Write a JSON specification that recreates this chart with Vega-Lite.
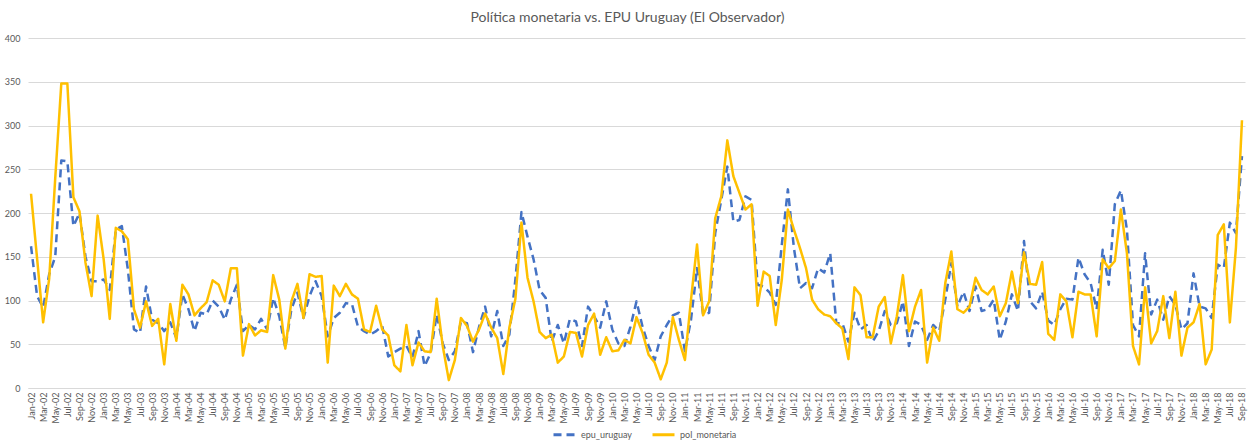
{
  "$schema": "https://vega.github.io/schema/vega-lite/v6.json",
  "width": 1217,
  "height": 350,
  "autosize": {"type": "none"},
  "padding": {"left": 28, "top": 38, "right": 8, "bottom": 55},
  "background": "white",
  "title": {"text": "Política monetaria vs. EPU Uruguay (El Observador)", "fontSize": 14, "font": "Lato", "fontWeight": "normal", "color": "#595959", "offset": 9, "anchor": "middle", "dx": -9},
  "data": {"values": [
    {"m":"Jan-02","epu_uruguay":162,"pol_monetaria":222},{"m":"Feb-02","epu_uruguay":105,"pol_monetaria":148},{"m":"Mar-02","epu_uruguay":92,"pol_monetaria":75},{"m":"Apr-02","epu_uruguay":130,"pol_monetaria":125},{"m":"May-02","epu_uruguay":150,"pol_monetaria":240},{"m":"Jun-02","epu_uruguay":260,"pol_monetaria":348},{"m":"Jul-02","epu_uruguay":259,"pol_monetaria":348},{"m":"Aug-02","epu_uruguay":185,"pol_monetaria":218},{"m":"Sep-02","epu_uruguay":200,"pol_monetaria":202},{"m":"Oct-02","epu_uruguay":150,"pol_monetaria":143},{"m":"Nov-02","epu_uruguay":122,"pol_monetaria":105},{"m":"Dec-02","epu_uruguay":122,"pol_monetaria":197},
    {"m":"Jan-03","epu_uruguay":124,"pol_monetaria":147},{"m":"Feb-03","epu_uruguay":112,"pol_monetaria":79},{"m":"Mar-03","epu_uruguay":181,"pol_monetaria":183},{"m":"Apr-03","epu_uruguay":185,"pol_monetaria":179},{"m":"May-03","epu_uruguay":135,"pol_monetaria":170},{"m":"Jun-03","epu_uruguay":67,"pol_monetaria":90},{"m":"Jul-03","epu_uruguay":63,"pol_monetaria":69},{"m":"Aug-03","epu_uruguay":116,"pol_monetaria":99},{"m":"Sep-03","epu_uruguay":78,"pol_monetaria":71},{"m":"Oct-03","epu_uruguay":74,"pol_monetaria":79},{"m":"Nov-03","epu_uruguay":65,"pol_monetaria":27},{"m":"Dec-03","epu_uruguay":75,"pol_monetaria":96},
    {"m":"Jan-04","epu_uruguay":57,"pol_monetaria":54},{"m":"Feb-04","epu_uruguay":107,"pol_monetaria":118},{"m":"Mar-04","epu_uruguay":90,"pol_monetaria":107},{"m":"Apr-04","epu_uruguay":65,"pol_monetaria":83},{"m":"May-04","epu_uruguay":86,"pol_monetaria":91},{"m":"Jun-04","epu_uruguay":84,"pol_monetaria":98},{"m":"Jul-04","epu_uruguay":100,"pol_monetaria":123},{"m":"Aug-04","epu_uruguay":93,"pol_monetaria":118},{"m":"Sep-04","epu_uruguay":78,"pol_monetaria":99},{"m":"Oct-04","epu_uruguay":101,"pol_monetaria":137},{"m":"Nov-04","epu_uruguay":118,"pol_monetaria":137},{"m":"Dec-04","epu_uruguay":65,"pol_monetaria":37},
    {"m":"Jan-05","epu_uruguay":72,"pol_monetaria":73},{"m":"Feb-05","epu_uruguay":67,"pol_monetaria":60},{"m":"Mar-05","epu_uruguay":79,"pol_monetaria":66},{"m":"Apr-05","epu_uruguay":67,"pol_monetaria":64},{"m":"May-05","epu_uruguay":103,"pol_monetaria":129},{"m":"Jun-05","epu_uruguay":82,"pol_monetaria":101},{"m":"Jul-05","epu_uruguay":46,"pol_monetaria":45},{"m":"Aug-05","epu_uruguay":90,"pol_monetaria":99},{"m":"Sep-05","epu_uruguay":109,"pol_monetaria":119},{"m":"Oct-05","epu_uruguay":80,"pol_monetaria":80},{"m":"Nov-05","epu_uruguay":105,"pol_monetaria":130},{"m":"Dec-05","epu_uruguay":122,"pol_monetaria":127},
    {"m":"Jan-06","epu_uruguay":105,"pol_monetaria":128},{"m":"Feb-06","epu_uruguay":59,"pol_monetaria":29},{"m":"Mar-06","epu_uruguay":80,"pol_monetaria":117},{"m":"Apr-06","epu_uruguay":86,"pol_monetaria":105},{"m":"May-06","epu_uruguay":97,"pol_monetaria":119},{"m":"Jun-06","epu_uruguay":96,"pol_monetaria":107},{"m":"Jul-06","epu_uruguay":70,"pol_monetaria":102},{"m":"Aug-06","epu_uruguay":65,"pol_monetaria":67},{"m":"Sep-06","epu_uruguay":61,"pol_monetaria":64},{"m":"Oct-06","epu_uruguay":65,"pol_monetaria":94},{"m":"Nov-06","epu_uruguay":71,"pol_monetaria":67},{"m":"Dec-06","epu_uruguay":36,"pol_monetaria":60},
    {"m":"Jan-07","epu_uruguay":41,"pol_monetaria":26},{"m":"Feb-07","epu_uruguay":45,"pol_monetaria":19},{"m":"Mar-07","epu_uruguay":48,"pol_monetaria":72},{"m":"Apr-07","epu_uruguay":35,"pol_monetaria":26},{"m":"May-07","epu_uruguay":65,"pol_monetaria":52},{"m":"Jun-07","epu_uruguay":25,"pol_monetaria":42},{"m":"Jul-07","epu_uruguay":40,"pol_monetaria":41},{"m":"Aug-07","epu_uruguay":84,"pol_monetaria":102},{"m":"Sep-07","epu_uruguay":51,"pol_monetaria":48},{"m":"Oct-07","epu_uruguay":32,"pol_monetaria":9},{"m":"Nov-07","epu_uruguay":42,"pol_monetaria":32},{"m":"Dec-07","epu_uruguay":76,"pol_monetaria":80},
    {"m":"Jan-08","epu_uruguay":74,"pol_monetaria":71},{"m":"Feb-08","epu_uruguay":41,"pol_monetaria":53},{"m":"Mar-08","epu_uruguay":70,"pol_monetaria":67},{"m":"Apr-08","epu_uruguay":93,"pol_monetaria":85},{"m":"May-08","epu_uruguay":59,"pol_monetaria":69},{"m":"Jun-08","epu_uruguay":88,"pol_monetaria":57},{"m":"Jul-08","epu_uruguay":48,"pol_monetaria":16},{"m":"Aug-08","epu_uruguay":61,"pol_monetaria":69},{"m":"Sep-08","epu_uruguay":124,"pol_monetaria":102},{"m":"Oct-08","epu_uruguay":201,"pol_monetaria":189},{"m":"Nov-08","epu_uruguay":173,"pol_monetaria":126},{"m":"Dec-08","epu_uruguay":147,"pol_monetaria":99},
    {"m":"Jan-09","epu_uruguay":112,"pol_monetaria":64},{"m":"Feb-09","epu_uruguay":103,"pol_monetaria":57},{"m":"Mar-09","epu_uruguay":53,"pol_monetaria":61},{"m":"Apr-09","epu_uruguay":72,"pol_monetaria":29},{"m":"May-09","epu_uruguay":51,"pol_monetaria":36},{"m":"Jun-09","epu_uruguay":79,"pol_monetaria":64},{"m":"Jul-09","epu_uruguay":76,"pol_monetaria":63},{"m":"Aug-09","epu_uruguay":48,"pol_monetaria":36},{"m":"Sep-09","epu_uruguay":93,"pol_monetaria":72},{"m":"Oct-09","epu_uruguay":82,"pol_monetaria":85},{"m":"Nov-09","epu_uruguay":69,"pol_monetaria":38},{"m":"Dec-09","epu_uruguay":99,"pol_monetaria":58},
    {"m":"Jan-10","epu_uruguay":67,"pol_monetaria":42},{"m":"Feb-10","epu_uruguay":51,"pol_monetaria":43},{"m":"Mar-10","epu_uruguay":48,"pol_monetaria":55},{"m":"Apr-10","epu_uruguay":70,"pol_monetaria":51},{"m":"May-10","epu_uruguay":99,"pol_monetaria":81},{"m":"Jun-10","epu_uruguay":70,"pol_monetaria":63},{"m":"Jul-10","epu_uruguay":48,"pol_monetaria":38},{"m":"Aug-10","epu_uruguay":32,"pol_monetaria":29},{"m":"Sep-10","epu_uruguay":59,"pol_monetaria":10},{"m":"Oct-10","epu_uruguay":72,"pol_monetaria":29},{"m":"Nov-10","epu_uruguay":83,"pol_monetaria":81},{"m":"Dec-10","epu_uruguay":86,"pol_monetaria":55},
    {"m":"Jan-11","epu_uruguay":42,"pol_monetaria":32},{"m":"Feb-11","epu_uruguay":78,"pol_monetaria":101},{"m":"Mar-11","epu_uruguay":137,"pol_monetaria":164},{"m":"Apr-11","epu_uruguay":84,"pol_monetaria":83},{"m":"May-11","epu_uruguay":86,"pol_monetaria":99},{"m":"Jun-11","epu_uruguay":177,"pol_monetaria":194},{"m":"Jul-11","epu_uruguay":215,"pol_monetaria":219},{"m":"Aug-11","epu_uruguay":253,"pol_monetaria":283},{"m":"Sep-11","epu_uruguay":190,"pol_monetaria":242},{"m":"Oct-11","epu_uruguay":192,"pol_monetaria":223},{"m":"Nov-11","epu_uruguay":219,"pol_monetaria":204},{"m":"Dec-11","epu_uruguay":215,"pol_monetaria":210},
    {"m":"Jan-12","epu_uruguay":118,"pol_monetaria":94},{"m":"Feb-12","epu_uruguay":116,"pol_monetaria":133},{"m":"Mar-12","epu_uruguay":109,"pol_monetaria":128},{"m":"Apr-12","epu_uruguay":95,"pol_monetaria":72},{"m":"May-12","epu_uruguay":164,"pol_monetaria":124},{"m":"Jun-12","epu_uruguay":227,"pol_monetaria":204},{"m":"Jul-12","epu_uruguay":160,"pol_monetaria":181},{"m":"Aug-12","epu_uruguay":114,"pol_monetaria":160},{"m":"Sep-12","epu_uruguay":120,"pol_monetaria":137},{"m":"Oct-12","epu_uruguay":114,"pol_monetaria":101},{"m":"Nov-12","epu_uruguay":137,"pol_monetaria":90},{"m":"Dec-12","epu_uruguay":132,"pol_monetaria":84},
    {"m":"Jan-13","epu_uruguay":154,"pol_monetaria":82},{"m":"Feb-13","epu_uruguay":74,"pol_monetaria":74},{"m":"Mar-13","epu_uruguay":74,"pol_monetaria":68},{"m":"Apr-13","epu_uruguay":53,"pol_monetaria":33},{"m":"May-13","epu_uruguay":86,"pol_monetaria":115},{"m":"Jun-13","epu_uruguay":67,"pol_monetaria":106},{"m":"Jul-13","epu_uruguay":72,"pol_monetaria":58},{"m":"Aug-13","epu_uruguay":53,"pol_monetaria":58},{"m":"Sep-13","epu_uruguay":65,"pol_monetaria":93},{"m":"Oct-13","epu_uruguay":88,"pol_monetaria":104},{"m":"Nov-13","epu_uruguay":72,"pol_monetaria":51},{"m":"Dec-13","epu_uruguay":74,"pol_monetaria":82},
    {"m":"Jan-14","epu_uruguay":99,"pol_monetaria":129},{"m":"Feb-14","epu_uruguay":48,"pol_monetaria":65},{"m":"Mar-14","epu_uruguay":76,"pol_monetaria":93},{"m":"Apr-14","epu_uruguay":72,"pol_monetaria":112},{"m":"May-14","epu_uruguay":55,"pol_monetaria":29},{"m":"Jun-14","epu_uruguay":72,"pol_monetaria":69},{"m":"Jul-14","epu_uruguay":65,"pol_monetaria":54},{"m":"Aug-14","epu_uruguay":101,"pol_monetaria":120},{"m":"Sep-14","epu_uruguay":143,"pol_monetaria":156},{"m":"Oct-14","epu_uruguay":93,"pol_monetaria":90},{"m":"Nov-14","epu_uruguay":110,"pol_monetaria":86},{"m":"Dec-14","epu_uruguay":88,"pol_monetaria":93},
    {"m":"Jan-15","epu_uruguay":116,"pol_monetaria":126},{"m":"Feb-15","epu_uruguay":88,"pol_monetaria":112},{"m":"Mar-15","epu_uruguay":90,"pol_monetaria":107},{"m":"Apr-15","epu_uruguay":101,"pol_monetaria":116},{"m":"May-15","epu_uruguay":55,"pol_monetaria":82},{"m":"Jun-15","epu_uruguay":76,"pol_monetaria":97},{"m":"Jul-15","epu_uruguay":107,"pol_monetaria":133},{"m":"Aug-15","epu_uruguay":88,"pol_monetaria":97},{"m":"Sep-15","epu_uruguay":168,"pol_monetaria":155},{"m":"Oct-15","epu_uruguay":99,"pol_monetaria":119},{"m":"Nov-15","epu_uruguay":91,"pol_monetaria":118},{"m":"Dec-15","epu_uruguay":110,"pol_monetaria":144},
    {"m":"Jan-16","epu_uruguay":77,"pol_monetaria":62},{"m":"Feb-16","epu_uruguay":72,"pol_monetaria":55},{"m":"Mar-16","epu_uruguay":90,"pol_monetaria":107},{"m":"Apr-16","epu_uruguay":102,"pol_monetaria":99},{"m":"May-16","epu_uruguay":101,"pol_monetaria":58},{"m":"Jun-16","epu_uruguay":149,"pol_monetaria":110},{"m":"Jul-16","epu_uruguay":130,"pol_monetaria":107},{"m":"Aug-16","epu_uruguay":120,"pol_monetaria":107},{"m":"Sep-16","epu_uruguay":90,"pol_monetaria":59},{"m":"Oct-16","epu_uruguay":158,"pol_monetaria":147},{"m":"Nov-16","epu_uruguay":118,"pol_monetaria":137},{"m":"Dec-16","epu_uruguay":210,"pol_monetaria":145},
    {"m":"Jan-17","epu_uruguay":226,"pol_monetaria":204},{"m":"Feb-17","epu_uruguay":181,"pol_monetaria":154},{"m":"Mar-17","epu_uruguay":72,"pol_monetaria":48},{"m":"Apr-17","epu_uruguay":59,"pol_monetaria":27},{"m":"May-17","epu_uruguay":154,"pol_monetaria":115},{"m":"Jun-17","epu_uruguay":84,"pol_monetaria":51},{"m":"Jul-17","epu_uruguay":101,"pol_monetaria":65},{"m":"Aug-17","epu_uruguay":78,"pol_monetaria":105},{"m":"Sep-17","epu_uruguay":105,"pol_monetaria":57},{"m":"Oct-17","epu_uruguay":95,"pol_monetaria":110},{"m":"Nov-17","epu_uruguay":67,"pol_monetaria":37},{"m":"Dec-17","epu_uruguay":74,"pol_monetaria":69},
    {"m":"Jan-18","epu_uruguay":131,"pol_monetaria":75},{"m":"Feb-18","epu_uruguay":93,"pol_monetaria":96},{"m":"Mar-18","epu_uruguay":91,"pol_monetaria":27},{"m":"Apr-18","epu_uruguay":80,"pol_monetaria":44},{"m":"May-18","epu_uruguay":141,"pol_monetaria":175},{"m":"Jun-18","epu_uruguay":137,"pol_monetaria":187},{"m":"Jul-18","epu_uruguay":189,"pol_monetaria":75},{"m":"Aug-18","epu_uruguay":177,"pol_monetaria":160},{"m":"Sep-18","epu_uruguay":265,"pol_monetaria":306}
  ]},
  "transform": [{"fold": ["epu_uruguay", "pol_monetaria"], "as": ["serie", "valor"]}],
  "mark": {"type": "line", "strokeWidth": 2.5, "strokeJoin": "round"},
  "encoding": {
    "x": {
      "field": "m", "type": "ordinal", "sort": null,
      "scale": {"type": "point", "padding": 0.5},
      "axis": {
        "title": null, "labelAngle": -90, "labelFontSize": 9, "labelColor": "#595959", "labelFont": "Lato",
        "ticks": false, "domainColor": "#d9d9d9", "domainWidth": 1, "labelOverlap": false, "labelPadding": 4, "grid": false,
        "labelExpr": "indexof(['Jan','Mar','May','Jul','Sep','Nov'], slice(datum.label,0,3)) >= 0 ? datum.label : ''"
      }
    },
    "y": {
      "field": "valor", "type": "quantitative",
      "scale": {"domain": [0, 400]},
      "axis": {
        "title": null, "values": [0, 50, 100, 150, 200, 250, 300, 350, 400], "labelFontSize": 9, "labelColor": "#595959", "labelFont": "Lato",
        "ticks": false, "domain": false, "gridColor": "#d9d9d9", "gridWidth": 1, "labelPadding": 8
      }
    },
    "color": {
      "field": "serie", "type": "nominal",
      "scale": {"domain": ["epu_uruguay", "pol_monetaria"], "range": ["#4472C4", "#FFC000"]},
      "legend": {"orient": "none", "legendX": 524, "legendY": 384, "direction": "horizontal", "title": null, "symbolType": "stroke", "symbolSize": 484, "symbolStrokeWidth": 3, "labelFontSize": 9, "labelColor": "#595959", "labelFont": "Lato", "labelOffset": 4, "columnPadding": 14}
    },
    "strokeDash": {
      "field": "serie", "type": "nominal",
      "scale": {"domain": ["epu_uruguay", "pol_monetaria"], "range": [[8, 5], [1, 0]]},
      "legend": {"orient": "none", "legendX": 524, "legendY": 384, "direction": "horizontal", "title": null, "symbolType": "stroke", "symbolSize": 484, "symbolStrokeWidth": 3, "labelFontSize": 9, "labelColor": "#595959", "labelFont": "Lato", "labelOffset": 4, "columnPadding": 14}
    }
  },
  "config": {"view": {"stroke": null}, "font": "Lato"}
}
